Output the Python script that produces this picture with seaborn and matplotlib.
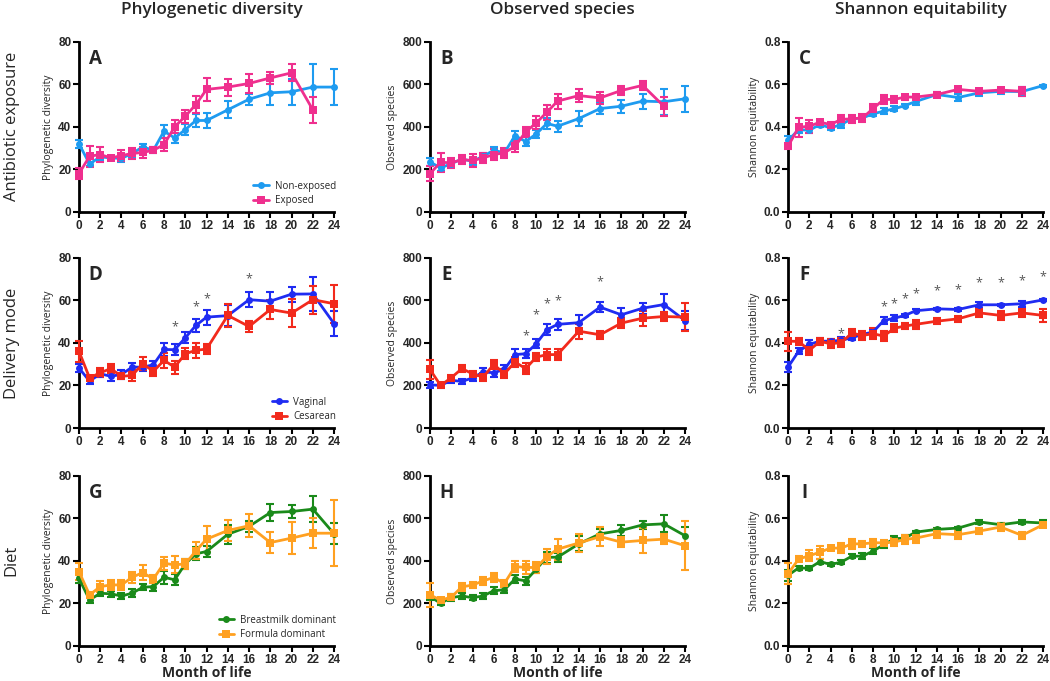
import numpy as np
import pandas as pd
import matplotlib.pyplot as plt
import seaborn as sns

months = [0, 1, 2, 3, 4, 5, 6, 7, 8, 9, 10, 11, 12, 14, 16, 18, 20, 22, 24]
months_22 = months[:-1]

# ---- Antibiotic exposure ----
pd_nonexp = [32, 22.6, 25.9, 25.4, 25.2, 27.5, 30.6, 29, 38, 34.8, 38.7, 43, 43, 48, 53, 56, 56.5, 58.7, 58.7]
pd_nonexp_err = [2, 1, 1.5, 1, 1.5, 1.5, 1.5, 1.5, 3, 2.5, 2.5, 3, 3.5, 4, 2.5, 5.5, 6, 11, 8.5]
pd_exp = [18, 26.2, 27, 25.4, 26.5, 27.5, 28, 29, 31.7, 40, 45, 50.5, 57.6, 58.7, 60.4, 63, 65.4, 48]
pd_exp_err = [2.5, 5, 3.5, 1, 2.5, 2.5, 2.5, 1.5, 3, 3, 3, 4, 5.5, 4, 4.5, 3, 4, 6]

os_nonexp = [235, 207, 227, 249, 238, 262, 290, 278, 359, 331, 367, 416, 403, 439, 486, 497, 521, 518, 532]
os_nonexp_err = [20, 15, 15, 15, 15, 15, 15, 15, 20, 20, 20, 25, 25, 35, 25, 30, 35, 60, 60]
os_exp = [180, 234, 231, 246, 242, 254, 270, 278, 309, 376, 419, 469, 521, 547, 536, 571, 595, 497]
os_exp_err = [35, 45, 25, 20, 30, 25, 25, 25, 25, 25, 30, 35, 35, 30, 30, 20, 20, 45]

se_nonexp = [0.336, 0.387, 0.384, 0.411, 0.395, 0.411, 0.438, 0.442, 0.461, 0.474, 0.485, 0.5, 0.519, 0.552, 0.538, 0.56, 0.567, 0.566, 0.594]
se_nonexp_err = [0.02, 0.015, 0.015, 0.012, 0.012, 0.015, 0.015, 0.015, 0.012, 0.015, 0.012, 0.008, 0.015, 0.012, 0.015, 0.015, 0.012, 0.02, 0.005]
se_exp = [0.309, 0.398, 0.403, 0.422, 0.411, 0.435, 0.438, 0.442, 0.486, 0.529, 0.529, 0.54, 0.54, 0.552, 0.576, 0.567, 0.573, 0.567]
se_exp_err = [0.015, 0.045, 0.03, 0.012, 0.012, 0.02, 0.02, 0.02, 0.02, 0.02, 0.015, 0.012, 0.012, 0.01, 0.012, 0.012, 0.01, 0.02]

# ---- Delivery mode ----
pd_vag = [28.2, 22, 25.5, 24.3, 25.2, 28.6, 28.6, 29.7, 36.9, 36.8, 42.4, 48.2, 52.1, 52.8, 60.3, 59.6, 62.9, 63, 49]
pd_vag_err = [2, 1.5, 1.5, 2, 2, 2, 2, 2, 3, 2.5, 2.5, 3, 3.5, 5, 3.5, 4.5, 3.5, 8, 6]
pd_ces = [36.1, 23.5, 26, 27.9, 24.3, 24.7, 30.2, 26.6, 31.8, 28.6, 34.9, 36.5, 37.1, 52.9, 47.7, 55.7, 54, 60.3, 58.4]
pd_ces_err = [5, 1, 2, 2, 1.5, 2.5, 3, 2, 3.5, 3, 2.5, 3.5, 2.5, 5.5, 2.5, 4.5, 6.5, 6.5, 9]
pd_star_x = [9, 11, 12, 16]
pd_star_y = [47.4, 57, 60.7, 70.1]

os_vag = [203, 200, 224, 219, 235, 263, 260, 275, 345, 349, 396, 462, 487, 495, 568, 532, 563, 580, 505]
os_vag_err = [15, 10, 12, 12, 15, 20, 20, 20, 25, 20, 20, 25, 25, 35, 25, 30, 25, 50, 45]
os_ces = [275, 200, 236, 279, 255, 239, 299, 255, 310, 279, 333, 345, 345, 455, 438, 493, 516, 524, 521]
os_ces_err = [45, 8, 12, 15, 15, 20, 20, 20, 25, 25, 20, 25, 25, 35, 20, 25, 35, 20, 65]
os_star_x = [9, 10, 11, 12, 16]
os_star_y = [435, 534, 584, 599, 688]

se_vag = [0.286, 0.361, 0.393, 0.408, 0.408, 0.412, 0.424, 0.44, 0.451, 0.505, 0.516, 0.529, 0.551, 0.56, 0.557, 0.579, 0.579, 0.584, 0.602]
se_vag_err = [0.025, 0.015, 0.02, 0.015, 0.012, 0.015, 0.012, 0.012, 0.015, 0.015, 0.015, 0.008, 0.006, 0.006, 0.006, 0.015, 0.006, 0.015, 0.006]
se_ces = [0.408, 0.407, 0.365, 0.407, 0.396, 0.401, 0.446, 0.435, 0.443, 0.432, 0.469, 0.479, 0.487, 0.502, 0.513, 0.541, 0.529, 0.541, 0.529]
se_ces_err = [0.045, 0.015, 0.02, 0.015, 0.02, 0.02, 0.02, 0.02, 0.025, 0.025, 0.02, 0.015, 0.02, 0.015, 0.015, 0.02, 0.02, 0.02, 0.03]
se_star_x = [5, 9, 10, 11, 12, 14, 16, 18, 20, 22, 24]
se_star_y = [0.443, 0.568, 0.584, 0.607, 0.631, 0.643, 0.651, 0.681, 0.681, 0.693, 0.712]

# ---- Diet ----
pd_bm = [31.8, 21.6, 24.8, 24.5, 23.5, 24.8, 27.6, 27.9, 32.3, 31.1, 38.6, 43.3, 44.4, 52.5, 56.2, 62.7, 63.2, 64.3, 52.7]
pd_bm_err = [2, 1.5, 1.5, 1.5, 1.5, 2, 1.5, 2, 3, 2.5, 2.5, 3, 2.5, 4.5, 2.5, 4, 3, 6, 5]
pd_fd = [35, 24, 27.9, 28.7, 28.7, 32.3, 34.5, 31.5, 38.9, 38.1, 38.6, 44.7, 50.2, 54.3, 56.5, 48.6, 50.7, 53, 53]
pd_fd_err = [4, 1.5, 2.5, 2.5, 2.5, 2.5, 3.5, 2, 3, 4, 2.5, 4, 6, 5, 5.5, 5, 7.5, 7, 15.5]

os_bm = [232, 201, 227, 235, 227, 235, 260, 264, 315, 306, 361, 417, 417, 480, 527, 543, 569, 574, 518]
os_bm_err = [15, 8, 15, 12, 12, 15, 15, 15, 18, 18, 18, 25, 20, 35, 25, 25, 20, 40, 40]
os_fd = [240, 216, 229, 278, 286, 306, 322, 294, 373, 369, 369, 420, 455, 484, 514, 488, 496, 502, 471]
os_fd_err = [55, 10, 15, 20, 15, 18, 22, 18, 25, 30, 25, 35, 50, 40, 45, 25, 60, 25, 115]

se_bm = [0.332, 0.367, 0.365, 0.397, 0.383, 0.394, 0.422, 0.422, 0.446, 0.476, 0.504, 0.507, 0.535, 0.548, 0.554, 0.583, 0.57, 0.583, 0.578]
se_bm_err = [0.025, 0.01, 0.01, 0.01, 0.008, 0.008, 0.01, 0.015, 0.015, 0.015, 0.015, 0.015, 0.005, 0.005, 0.005, 0.01, 0.008, 0.008, 0.015]
se_fd = [0.339, 0.409, 0.424, 0.441, 0.46, 0.46, 0.48, 0.48, 0.485, 0.485, 0.488, 0.501, 0.507, 0.528, 0.523, 0.54, 0.559, 0.52, 0.57]
se_fd_err = [0.05, 0.015, 0.025, 0.03, 0.01, 0.025, 0.025, 0.015, 0.02, 0.015, 0.02, 0.02, 0.025, 0.02, 0.02, 0.015, 0.02, 0.015, 0.01]

col_titles = ["Phylogenetic diversity", "Observed species", "Shannon equitability"]
row_titles = ["Antibiotic exposure", "Delivery mode", "Diet"]
y_labels = ["Phylogenetic diversity", "Observed species", "Shannon equitability"]
panel_letters = ["A", "B", "C", "D", "E", "F", "G", "H", "I"]
legend_labels = [("Non-exposed", "Exposed"), ("Vaginal", "Cesarean"),
                 ("Breastmilk dominant", "Formula dominant")]
row_colors = [("#1e9bf0", "#ef2f8e"), ("#1f2cf2", "#f22a1c"), ("#1a8a1a", "#ffa020")]

sns.set_theme(style="ticks")
plt.rcParams['font.family'] = ['Open Sans', 'DejaVu Sans']

fig = plt.figure(figsize=(10.5, 6.81), dpi=100)
lefts = [0.0752, 0.4095, 0.7505]
bottoms = [0.6887, 0.3715, 0.0514]
width, height = 0.243, 0.25

ylims = [(0, 80, 20, "{:.0f}"), (0, 800, 200, "{:.0f}"), (0, 0.8, 0.2, "{:.1f}")]

series = [
    [(pd_nonexp, pd_nonexp_err, pd_exp, pd_exp_err),
     (os_nonexp, os_nonexp_err, os_exp, os_exp_err),
     (se_nonexp, se_nonexp_err, se_exp, se_exp_err)],
    [(pd_vag, pd_vag_err, pd_ces, pd_ces_err),
     (os_vag, os_vag_err, os_ces, os_ces_err),
     (se_vag, se_vag_err, se_ces, se_ces_err)],
    [(pd_bm, pd_bm_err, pd_fd, pd_fd_err),
     (os_bm, os_bm_err, os_fd, os_fd_err),
     (se_bm, se_bm_err, se_fd, se_fd_err)],
]
stars = {(1, 0): (pd_star_x, pd_star_y), (1, 1): (os_star_x, os_star_y),
         (1, 2): (se_star_x, se_star_y)}


def draw_series(ax, x, y, err, color, marker, label):
    df = pd.DataFrame({"month": x, "value": y})
    ax.errorbar(x, y, yerr=err, fmt="none", ecolor=color, elinewidth=1.5,
                capsize=3, capthick=1.5, clip_on=False, zorder=3)
    sns.lineplot(data=df, x="month", y="value", ax=ax, color=color,
                 marker=marker, markersize=5 if marker == "o" else 5.5,
                 markeredgewidth=0, linewidth=2, label=label,
                 clip_on=False, zorder=4)


for r in range(3):
    for c in range(3):
        ax = fig.add_axes([lefts[c], bottoms[r], width, height])
        y1, e1, y2, e2 = series[r][c]
        col1, col2 = row_colors[r]
        lab1, lab2 = legend_labels[r]
        x2 = months if len(y2) == len(months) else months_22
        draw_series(ax, months, y1, e1, col1, "o", lab1)
        draw_series(ax, x2, y2, e2, col2, "s", lab2)

        lo, hi, step, fmt = ylims[c]
        ax.set_xlim(0, 24)
        ax.set_ylim(lo, hi)
        ax.set_xticks(range(0, 25, 2))
        yt = np.arange(lo, hi + step / 2, step)
        ax.set_yticks(yt)
        ax.set_yticklabels([fmt.format(v) for v in yt])
        for lab in ax.get_xticklabels() + ax.get_yticklabels():
            lab.set_fontweight("bold")
            lab.set_fontsize(8.5)
            lab.set_family(["Liberation Sans", "DejaVu Sans"])
        ax.tick_params(length=4, width=1.5, pad=1.5, color="black")
        sns.despine(ax=ax)
        for s in ("left", "bottom"):
            ax.spines[s].set_linewidth(2)
            ax.spines[s].set_color("black")
        ax.set_ylabel(y_labels[c], fontsize=7.5, labelpad=3)
        if r == 2:
            ax.set_xlabel("Month of life", fontsize=10, fontweight="bold", labelpad=0)
        else:
            ax.set_xlabel("")
        ax.text(0.065, 0.955, panel_letters[r * 3 + c], transform=ax.transAxes,
                fontsize=13.5, fontweight="bold", ha="center", va="top")

        if (r, c) in stars:
            sx, sy = stars[(r, c)]
            for xx, yy in zip(sx, sy):
                ax.text(xx, yy, "*", color="#555555", fontsize=9,
                        ha="center", va="center", clip_on=False)

        if c == 0:
            ax.legend(loc="lower right", bbox_to_anchor=(1.03, 0.0), frameon=False,
                      fontsize=7, handlelength=1.6, handletextpad=0.6,
                      labelspacing=0.35, borderaxespad=0.2)
        else:
            ax.get_legend().remove()

for c, t in enumerate(col_titles):
    fig.text(lefts[c] + width / 2 + 0.005, 0.986, t, fontsize=12.3,
             fontweight="semibold", ha="center", va="center")
for r, t in enumerate(row_titles):
    fig.text(0.011, bottoms[r] + height / 2, t, fontsize=12,
             ha="center", va="center", rotation=90)

fig.savefig("out.png", dpi=100)
